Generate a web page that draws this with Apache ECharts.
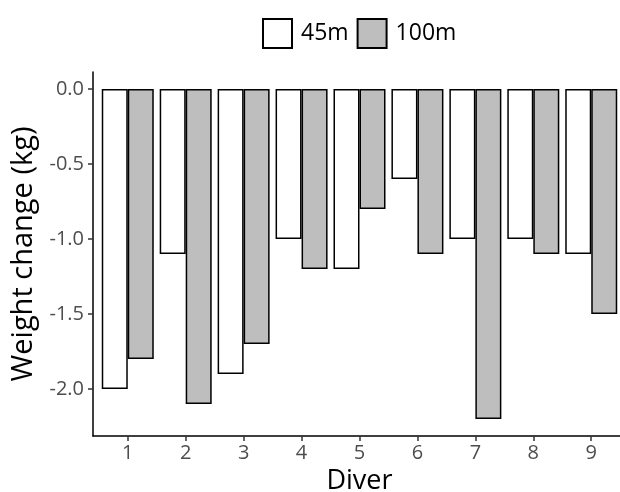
<!DOCTYPE html>
<html>
<head>
<meta charset="utf-8">
<script src="https://cdn.jsdelivr.net/npm/echarts@6/dist/echarts.min.js"></script>
<style>
  html, body { margin: 0; padding: 0; background: #fff; }
  #chart { width: 620px; height: 492px; }
</style>
</head>
<body>
<div id="chart"></div>
<script>
const divers = [1, 2, 3, 4, 5, 6, 7, 8, 9]
const change45 = [-2.0, -1.1, -1.9, -1.0, -1.2, -0.6, -1.0, -1.0, -1.1]
const change100 = [-1.8, -2.1, -1.7, -1.2, -0.8, -1.1, -2.2, -1.1, -1.5]
const yTicks = [-2.0, -1.5, -1.0, -0.5, 0.0]

const chart = echarts.init(document.getElementById('chart'))
const font = 'Open Sans'

chart.setOption({
  animation: false,
  legend: {
    top: 13,
    left: 257,
    itemWidth: 29,
    itemHeight: 29,
    itemGap: 8,
    icon: 'rect',
    textStyle: { fontFamily: font, fontSize: 23, color: '#000', padding: [0, 0, 0, 4] },
    data: ['45m', '100m'],
  },
  grid: {
    left: 93,
    top: 72,
    width: 533,
    height: 364,
    containLabel: false,
    outerBoundsMode: 'none',
  },
  xAxis: {
    type: 'value',
    min: 0.4,
    max: 9.6,
    name: 'Diver',
    nameLocation: 'middle',
    nameGap: 30,
    nameTextStyle: { fontFamily: font, fontSize: 27, color: '#000' },
    axisLine: { onZero: false, lineStyle: { color: '#000', width: 1.5 } },
    axisTick: { show: true, length: 5, customValues: divers, lineStyle: { color: '#333', width: 1.5 } },
    axisLabel: {
      customValues: divers,
      fontFamily: font,
      fontSize: 20,
      color: '#4d4d4d',
      margin: 7,
    },
    splitLine: { show: false },
  },
  yAxis: {
    type: 'value',
    min: -2.3133,
    max: 0.1133,
    name: 'Weight change (kg)',
    nameLocation: 'middle',
    nameGap: 49,
    nameTextStyle: { fontFamily: font, fontSize: 29, color: '#000' },
    axisLine: { show: true, onZero: false, lineStyle: { color: '#000', width: 1.5 } },
    axisTick: { show: true, length: 5, customValues: yTicks, lineStyle: { color: '#333', width: 1.5 } },
    axisLabel: {
      customValues: yTicks,
      formatter: (v) => v.toFixed(1),
      fontFamily: font,
      fontSize: 20,
      color: '#4d4d4d',
      margin: 9,
    },
    splitLine: { show: false },
  },
  series: [
    {
      name: '45m',
      type: 'bar',
      barWidth: 26,
      barGap: '0%',
      data: divers.map((d, i) => [d, change45[i]]),
      itemStyle: { color: '#ffffff', borderColor: '#000', borderWidth: 1.5 },
    },
    {
      name: '100m',
      type: 'bar',
      barWidth: 26,
      barGap: '0%',
      data: divers.map((d, i) => [d, change100[i]]),
      itemStyle: { color: '#bebebe', borderColor: '#000', borderWidth: 1.5 },
    },
  ],
})
</script>
</body>
</html>
